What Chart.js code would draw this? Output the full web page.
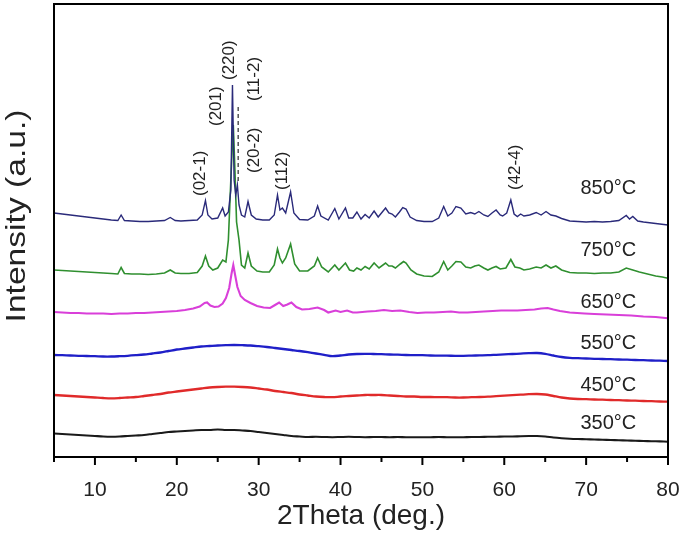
<!DOCTYPE html>
<html>
<head>
<meta charset="utf-8">
<script src="https://cdn.jsdelivr.net/npm/chart.js@4.4.1/dist/chart.umd.min.js"></script>
<style>
  html, body { margin: 0; padding: 0; background: #fff; }
  #wrap { width: 685px; height: 537px; }
</style>
</head>
<body>
<div id="wrap"><canvas id="xrd" width="685" height="537"></canvas></div>
<script>
// eixo x comum das amostras amorfas (2Theta, graus)
const theta = [5,6,7,8,9,10,11,12,13,14,15,16,17,18,19,20,21,22,23,24,25,26,27,28,29,30,
  31,32,33,34,35,36,37,38,39,40,41,42,43,44,45,46,47,48,49,50,51,52,53,54,55,56,57,58,59,60,
  61,62,63,64,65,66,67,68,69,70,71,72,73,74,75,76,77,78,79,80];

const int350 = [23.5,23,22.5,22,21.5,21,20.5,20.3,20.5,21,21.5,22,23,24,25,25.5,26,26.5,27,27,
  27.5,27,27,26.5,26,25,24,23,22,21,20.5,20,20.2,20,19.8,20,20.2,20,19.8,20,20,19.8,20,19.7,
  19.8,19.7,19.8,20,19.8,19.7,19.8,20,20,20.2,20.3,20.5,20.5,20.8,21,21,20.5,19.5,18.8,18.3,
  18,17.8,17.5,17.3,17,16.8,16.5,16.3,16,15.8,15.6,15.3];

const int450 = [62,61.5,61,60.5,60,59.5,59,58.7,59,59.5,60,61,62,63,64.5,65.5,66.5,67.5,68.5,
  69.5,70,70.3,70.3,70,69.5,68.5,67.5,66,65,64,62.5,61.5,60.5,60,59.8,60.5,61,61.5,62,62,62,
  61.5,61,60.5,60.5,60,60,59.8,59.8,59.5,59.5,59.8,60,60.3,60.8,61.3,61.8,62.3,62.8,63,62.5,
  61,59.5,58.5,58,57.8,57.5,57.3,57,56.8,56.5,56.3,56,55.8,55.5,55.3];

const int550 = [102,101.8,101.5,101.2,101,100.8,100.5,100.5,100.8,101.2,101.8,102.5,103.5,
  104.5,106,107.5,108.5,109.5,110.5,111,111.5,111.8,112,111.8,111.5,110.8,110,109,108,107,106,
  104.8,103.5,102.2,100.8,101.5,102.5,103,103.2,103,102.8,102.5,102.3,102,101.8,101.8,101.5,
  101.3,101.3,101.2,101.2,101.4,101.6,101.8,102.2,102.6,103,103.4,103.8,104,103.2,101.5,100,
  99.2,98.8,98.5,98.2,98,97.8,97.5,97.3,97,96.8,96.5,96.3,96];

const theta650 = [5,6,7,8,9,10,11,12,13,14,15,16,17,18,19,20,21,22,22.8,23.4,23.7,24.1,24.6,
  25.1,25.6,26,26.4,26.7,26.9,27.1,27.4,27.8,28.3,29,29.8,30.6,31.4,32,32.5,33,33.5,34,34.6,
  35.3,36.2,37.2,38,38.5,39.4,40,40.8,41.5,42,43.3,44.3,45.3,46.3,47.3,48.4,49.4,50.4,51.4,
  52.5,53.5,54.5,55.5,56.5,57.5,58.6,59.6,60.6,61.6,62.6,63.7,64.5,65.3,66,66.8,68,69.8,71,
  72.5,74,75.5,77,78.5,80];
const int650 = [145,144.5,144,144,143.5,143.5,143.5,143,143.5,143.5,144,144,144.5,145,145.5,
  146,147,148.5,150.5,154,154.5,151.5,150,150.5,153.5,159,169,184,192,183,170,161,157,154,151,
  149.5,149,152,154.5,151,152.5,154.5,150,147.5,148,149.5,147,144.5,146.5,145,146.5,144.5,
  144.5,145.5,146,147,146,146.5,145,144,144.5,144.5,145,145.5,144.5,144.5,145,145.5,146,146.5,
  146.5,146.5,147,147.5,148.5,149,147.5,146,144.5,143.5,143,142.5,142,141.5,140.5,140,138.7];

const theta750 = [5,6,7,8,9,10,11,12,12.8,13.2,13.6,14.5,15.5,16.5,17.5,18.5,19.2,19.8,20.5,
  21.5,22.5,23.1,23.5,23.9,24.4,25,25.6,26,26.3,26.6,26.9,27.1,27.3,27.6,27.9,28.3,28.7,29.1,
  29.8,30.5,31.3,31.9,32.3,32.6,32.9,33.3,33.9,34.4,35,36,36.8,37.2,37.7,38.5,39.3,39.8,40.6,
  41.1,41.6,42,42.5,43,43.5,44.1,44.7,45.5,45.9,46.3,46.7,47.3,47.7,48,48.6,49.3,50.2,51.2,52,
  52.6,53.1,53.6,54.1,54.7,55.3,55.9,56.4,56.9,57.5,58,58.5,59,59.5,60.2,60.8,61.3,61.9,62.4,
  63.1,63.9,64.5,65.1,65.7,66.3,67,68,69,70,71,72,73,74,74.9,75.7,76.5,77.5,78.5,79.3,80];
const int750 = [187,186.5,186,185.5,185,184.5,184,183.5,183,189.5,183.5,183,183,182.5,183,184,
  187,184,183.5,183.5,184.5,191,201,191,187,189,197,195,217,277,332,287,235,217,192,189,204,
  191,186,185,185,192,208,199,194,199,213,193,186,186,191,199,190,185,192,187,194,187,186,189,
  187,190.5,188,194,189,194,191,191,189,193,195.5,194,187,183,181,180.5,185,195.5,187,191,
  195.5,195,190,189,191,192,189,187,189,190.5,188,189,197.5,190,189,187,188,190,189,192,189,
  191,187,184.5,184,184,183.5,184,184,185,189,187,185,183,181,180,178.7];

const theta850 = [5,6,7,8,9,10,11,12,12.8,13.2,13.6,14.5,15.5,16.5,17.5,18.5,19.2,19.8,20.5,
  21.5,22.5,23.1,23.5,23.8,24.3,25,25.6,25.9,26.3,26.6,26.8,27,27.2,27.4,27.6,27.9,28.3,28.7,
  29.1,29.7,30.5,31.3,31.9,32.3,32.6,32.9,33.3,33.9,34.3,35,36,36.8,37.2,37.6,38.5,39.3,39.8,
  40.6,41,41.5,42,42.5,43,43.5,44.1,44.6,45.1,45.5,45.9,46.3,46.7,47.2,47.6,48,48.5,49.3,50.2,
  51.2,52,52.6,53.1,53.6,54.1,54.7,55.3,55.9,56.4,56.9,57.5,58,58.5,59,59.5,59.8,60.3,60.8,
  61.2,61.6,62,62.4,63.1,63.9,64.5,65.1,65.7,66.3,67,68,69,70,71,72,73,74,74.9,75.3,75.7,76.3,
  77,78,79,80];
const int850 = [244,243,242,241,240,239,238,237,236.5,242,236.5,236,235.5,235.5,236,236.5,
  239.5,236.5,236,236.5,237,242,256.5,242,238,239,249,241,245,267,372,277,262,272,252,242,240,
  255.5,242,238,237,237,242,262,247,249,244,265,244,237.5,237,241,251,241,237,248.5,238,249,
  239,239,245,238,242.5,239,246,240,245,249,244,243,240,245,249.5,248,240,236.5,235.5,235.5,
  239,250.5,241,244,250.5,249,243,244.5,243,245.5,242,240.5,244,247,242,241,244,257,243,240.5,
  243,241,242,244.5,242,245.5,242,241,238.5,236,235.5,235,235.5,235,235.5,236.5,241.5,238,
  240.5,236,235,234,233,232];

const seriesLabels = ['850°C', '750°C', '650°C', '550°C', '450°C', '350°C'];
const xTicks = [10, 20, 30, 40, 50, 60, 70, 80];
const peakLabels = ['(02-1)', '(201)', '(220)', '(11-2)', '(20-2)', '(112)', '(42-4)'];

// posicoes das anotacoes em coordenadas dos dados
const peakPos = [[22.85, 261], [24.8, 331], [26.4, 377], [29.45, 356], [29.45, 284], [32.9, 267], [61.4, 267]];
const labelPos = [[69.3, 269], [69.3, 207], [69.3, 155], [69.3, 114], [69.3, 72], [69.3, 34]];
const cores = ['#2a2a7a', '#2f8f2f', '#d93fd9', '#1f1fc8', '#e02a2a', '#1a1a1a'];
const FONTE = "'Liberation Sans', Arial, sans-serif";

function pares(xs, ys) {
  return xs.map((x, i) => ({ x: x, y: ys[i] }));
}

const series = [
  pares(theta850, int850),
  pares(theta750, int750),
  pares(theta650, int650),
  pares(theta, int550),
  pares(theta, int450),
  pares(theta, int350),
];
const larguras = [1.4, 1.6, 2.1, 2.3, 2.3, 2.1];

// plugin para moldura, ticks menores, textos e linha tracejada
const extras = {
  id: 'extras',
  afterDatasetsDraw(chart) {
    const ctx = chart.ctx;
    const a = chart.chartArea;
    const sx = chart.scales.x;
    const sy = chart.scales.y;
    ctx.save();

    // linha tracejada do pico (11-2)
    ctx.strokeStyle = '#555';
    ctx.lineWidth = 1.5;
    ctx.setLineDash([4, 3]);
    ctx.beginPath();
    ctx.moveTo(sx.getPixelForValue(27.5), sy.getPixelForValue(350));
    ctx.lineTo(sx.getPixelForValue(27.5), sy.getPixelForValue(275));
    ctx.stroke();
    ctx.setLineDash([]);

    // moldura
    ctx.strokeStyle = '#000';
    ctx.lineWidth = 2;
    ctx.strokeRect(a.left, a.top, a.right - a.left, a.bottom - a.top);

    // ticks do eixo x
    ctx.lineWidth = 2;
    for (let v = 5; v <= 80; v += 5) {
      const px = sx.getPixelForValue(v);
      ctx.beginPath();
      ctx.moveTo(px, a.bottom);
      ctx.lineTo(px, a.bottom + (v % 10 === 0 ? 8 : 5));
      ctx.stroke();
    }

    // rotulos dos picos
    ctx.fillStyle = '#222';
    ctx.font = '17px ' + FONTE;
    ctx.textAlign = 'left';
    ctx.textBaseline = 'middle';
    peakLabels.forEach((t, i) => {
      ctx.save();
      ctx.translate(sx.getPixelForValue(peakPos[i][0]), sy.getPixelForValue(peakPos[i][1]));
      ctx.rotate(-Math.PI / 2);
      ctx.fillText(t, 0, 0);
      ctx.restore();
    });

    // temperaturas
    ctx.font = '20px ' + FONTE;
    seriesLabels.forEach((t, i) => {
      ctx.fillText(t, sx.getPixelForValue(labelPos[i][0]), sy.getPixelForValue(labelPos[i][1]));
    });

    // titulo do eixo y
    ctx.font = '28px ' + FONTE;
    ctx.textAlign = 'center';
    ctx.save();
    ctx.translate(17, 216);
    ctx.rotate(-Math.PI / 2);
    ctx.scale(1.2, 1);
    ctx.fillText('Intensity (a.u.)', 0, 0);
    ctx.restore();

    ctx.restore();
  }
};

const ctx = document.getElementById('xrd').getContext('2d');
const grafico = new Chart(ctx, {
  type: 'line',
  data: {
    datasets: series.map((d, i) => ({
      label: seriesLabels[i],
      data: d,
      borderColor: cores[i],
      borderWidth: larguras[i],
      pointRadius: 0,
      tension: i >= 3 ? 0.3 : 0,
      fill: false,
    })),
  },
  options: {
    responsive: false,
    animation: false,
    layout: { padding: { left: 54, right: 17, top: 4, bottom: 0 } },
    plugins: { legend: { display: false }, tooltip: { enabled: false } },
    scales: {
      x: {
        type: 'linear',
        min: 5,
        max: 80,
        afterBuildTicks: (s) => { s.ticks = xTicks.map(v => ({ value: v })); },
        afterFit: (s) => { s.height = 80; s.paddingLeft = 0; s.paddingRight = 0; },
        grid: { display: false },
        border: { display: false },
        ticks: { color: '#222', font: { size: 21, family: FONTE }, padding: 13, maxRotation: 0 },
        title: { display: true, text: '2Theta (deg.)', color: '#222', font: { size: 28, family: FONTE }, padding: { top: 0 } },
      },
      y: {
        display: false,
        min: 0,
        max: 453,
      },
    },
  },
  plugins: [extras],
});
</script>
</body>
</html>
